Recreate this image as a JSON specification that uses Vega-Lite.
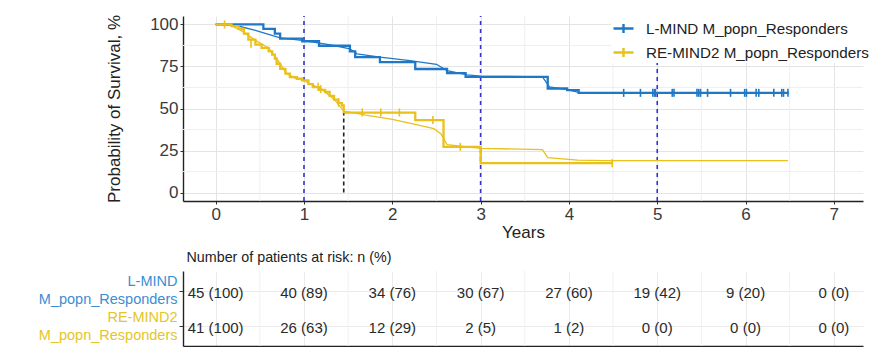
{
  "$schema": "https://vega.github.io/schema/vega-lite/v6.json",
  "padding": {"left": 38, "top": 14, "right": 0, "bottom": 0},
  "background": "white",
  "spacing": 11,
  "config": {
    "font": "Liberation Sans",
    "view": {"stroke": null},
    "axis": {
      "domainColor": "#222222", "domainWidth": 1.4,
      "tickColor": "#333333", "tickSize": 3, "tickWidth": 1,
      "gridColor": "#e4e4e4", "gridWidth": 1,
      "labelColor": "#3a3a3a", "labelFont": "Liberation Sans",
      "titleFont": "Liberation Sans", "titleFontWeight": "normal", "titleColor": "#222222"
    }
  },
  "datasets": {
    "minorX": [{"v":0.5},{"v":1.5},{"v":2.5},{"v":3.5},{"v":4.5},{"v":5.5},{"v":6.5}],
    "minorY": [{"v":12.5},{"v":37.5},{"v":62.5},{"v":87.5}],
    "vlines": [{"t":1,"lo":-5,"hi":105},{"t":3,"lo":-5,"hi":105},{"t":5,"lo":-5,"hi":105}],
    "median": [{"t":1.45,"lo":0,"hi":47}],
    "curves": [
      {"series":"L-MIND M_popn_Responders","kind":"thick","t":0,"s":100},
      {"series":"L-MIND M_popn_Responders","kind":"thick","t":0.54,"s":97.4},
      {"series":"L-MIND M_popn_Responders","kind":"thick","t":0.67,"s":94.5},
      {"series":"L-MIND M_popn_Responders","kind":"thick","t":0.73,"s":91.5},
      {"series":"L-MIND M_popn_Responders","kind":"thick","t":0.98,"s":90.0},
      {"series":"L-MIND M_popn_Responders","kind":"thick","t":1.17,"s":87.3},
      {"series":"L-MIND M_popn_Responders","kind":"thick","t":1.52,"s":84.0},
      {"series":"L-MIND M_popn_Responders","kind":"thick","t":1.58,"s":80.5},
      {"series":"L-MIND M_popn_Responders","kind":"thick","t":1.86,"s":77.6},
      {"series":"L-MIND M_popn_Responders","kind":"thick","t":2.26,"s":73.5},
      {"series":"L-MIND M_popn_Responders","kind":"thick","t":2.62,"s":71.0},
      {"series":"L-MIND M_popn_Responders","kind":"thick","t":2.83,"s":68.8},
      {"series":"L-MIND M_popn_Responders","kind":"thick","t":3.76,"s":61.9},
      {"series":"L-MIND M_popn_Responders","kind":"thick","t":3.98,"s":60.9},
      {"series":"L-MIND M_popn_Responders","kind":"thick","t":4.11,"s":59.3},
      {"series":"L-MIND M_popn_Responders","kind":"thick","t":6.49,"s":59.3},
      {"series":"L-MIND M_popn_Responders","kind":"thin","t":0,"s":100},
      {"series":"L-MIND M_popn_Responders","kind":"thin","t":0.2,"s":99.8},
      {"series":"L-MIND M_popn_Responders","kind":"thin","t":0.45,"s":96.5},
      {"series":"L-MIND M_popn_Responders","kind":"thin","t":0.73,"s":92.0},
      {"series":"L-MIND M_popn_Responders","kind":"thin","t":1.0,"s":90.3},
      {"series":"L-MIND M_popn_Responders","kind":"thin","t":1.3,"s":87.8},
      {"series":"L-MIND M_popn_Responders","kind":"thin","t":1.52,"s":85.5},
      {"series":"L-MIND M_popn_Responders","kind":"thin","t":1.6,"s":82.5},
      {"series":"L-MIND M_popn_Responders","kind":"thin","t":1.86,"s":80.5},
      {"series":"L-MIND M_popn_Responders","kind":"thin","t":2.2,"s":78.5},
      {"series":"L-MIND M_popn_Responders","kind":"thin","t":2.5,"s":76.3},
      {"series":"L-MIND M_popn_Responders","kind":"thin","t":2.62,"s":72.5},
      {"series":"L-MIND M_popn_Responders","kind":"thin","t":2.85,"s":70.0},
      {"series":"L-MIND M_popn_Responders","kind":"thin","t":3.0,"s":69.3},
      {"series":"L-MIND M_popn_Responders","kind":"thin","t":3.7,"s":68.8},
      {"series":"L-MIND M_popn_Responders","kind":"thin","t":3.78,"s":62.8},
      {"series":"L-MIND M_popn_Responders","kind":"thin","t":3.98,"s":61.2},
      {"series":"L-MIND M_popn_Responders","kind":"thin","t":4.11,"s":59.6},
      {"series":"L-MIND M_popn_Responders","kind":"thin","t":6.49,"s":59.3},
      {"series":"RE-MIND2 M_popn_Responders","kind":"thick","t":0,"s":100},
      {"series":"RE-MIND2 M_popn_Responders","kind":"thick","t":0.18,"s":99},
      {"series":"RE-MIND2 M_popn_Responders","kind":"thick","t":0.26,"s":97.4},
      {"series":"RE-MIND2 M_popn_Responders","kind":"thick","t":0.32,"s":94.5},
      {"series":"RE-MIND2 M_popn_Responders","kind":"thick","t":0.37,"s":91.0},
      {"series":"RE-MIND2 M_popn_Responders","kind":"thick","t":0.45,"s":88.0},
      {"series":"RE-MIND2 M_popn_Responders","kind":"thick","t":0.52,"s":86.0},
      {"series":"RE-MIND2 M_popn_Responders","kind":"thick","t":0.6,"s":84.0},
      {"series":"RE-MIND2 M_popn_Responders","kind":"thick","t":0.64,"s":82.0},
      {"series":"RE-MIND2 M_popn_Responders","kind":"thick","t":0.67,"s":79.6},
      {"series":"RE-MIND2 M_popn_Responders","kind":"thick","t":0.69,"s":76.6},
      {"series":"RE-MIND2 M_popn_Responders","kind":"thick","t":0.73,"s":73.6},
      {"series":"RE-MIND2 M_popn_Responders","kind":"thick","t":0.79,"s":70.7},
      {"series":"RE-MIND2 M_popn_Responders","kind":"thick","t":0.84,"s":68.7},
      {"series":"RE-MIND2 M_popn_Responders","kind":"thick","t":0.92,"s":67.7},
      {"series":"RE-MIND2 M_popn_Responders","kind":"thick","t":0.98,"s":66.7},
      {"series":"RE-MIND2 M_popn_Responders","kind":"thick","t":1.05,"s":64.5},
      {"series":"RE-MIND2 M_popn_Responders","kind":"thick","t":1.1,"s":62.7},
      {"series":"RE-MIND2 M_popn_Responders","kind":"thick","t":1.17,"s":61.1},
      {"series":"RE-MIND2 M_popn_Responders","kind":"thick","t":1.24,"s":59.8},
      {"series":"RE-MIND2 M_popn_Responders","kind":"thick","t":1.29,"s":57.5},
      {"series":"RE-MIND2 M_popn_Responders","kind":"thick","t":1.34,"s":55.3},
      {"series":"RE-MIND2 M_popn_Responders","kind":"thick","t":1.39,"s":53.2},
      {"series":"RE-MIND2 M_popn_Responders","kind":"thick","t":1.43,"s":51.8},
      {"series":"RE-MIND2 M_popn_Responders","kind":"thick","t":1.45,"s":47.6},
      {"series":"RE-MIND2 M_popn_Responders","kind":"thick","t":2.26,"s":43.1},
      {"series":"RE-MIND2 M_popn_Responders","kind":"thick","t":2.58,"s":27.2},
      {"series":"RE-MIND2 M_popn_Responders","kind":"thick","t":3.0,"s":17.5},
      {"series":"RE-MIND2 M_popn_Responders","kind":"thick","t":4.49,"s":17.5},
      {"series":"RE-MIND2 M_popn_Responders","kind":"thin","t":0,"s":100},
      {"series":"RE-MIND2 M_popn_Responders","kind":"thin","t":0.15,"s":100},
      {"series":"RE-MIND2 M_popn_Responders","kind":"thin","t":0.3,"s":96},
      {"series":"RE-MIND2 M_popn_Responders","kind":"thin","t":0.45,"s":90.5},
      {"series":"RE-MIND2 M_popn_Responders","kind":"thin","t":0.6,"s":86},
      {"series":"RE-MIND2 M_popn_Responders","kind":"thin","t":0.7,"s":79},
      {"series":"RE-MIND2 M_popn_Responders","kind":"thin","t":0.8,"s":71},
      {"series":"RE-MIND2 M_popn_Responders","kind":"thin","t":0.9,"s":68},
      {"series":"RE-MIND2 M_popn_Responders","kind":"thin","t":1.0,"s":66.5},
      {"series":"RE-MIND2 M_popn_Responders","kind":"thin","t":1.2,"s":61.5},
      {"series":"RE-MIND2 M_popn_Responders","kind":"thin","t":1.35,"s":55},
      {"series":"RE-MIND2 M_popn_Responders","kind":"thin","t":1.45,"s":48.5},
      {"series":"RE-MIND2 M_popn_Responders","kind":"thin","t":1.7,"s":46},
      {"series":"RE-MIND2 M_popn_Responders","kind":"thin","t":2.0,"s":43.5},
      {"series":"RE-MIND2 M_popn_Responders","kind":"thin","t":2.26,"s":40.5},
      {"series":"RE-MIND2 M_popn_Responders","kind":"thin","t":2.47,"s":38},
      {"series":"RE-MIND2 M_popn_Responders","kind":"thin","t":2.55,"s":35},
      {"series":"RE-MIND2 M_popn_Responders","kind":"thin","t":2.62,"s":28.5},
      {"series":"RE-MIND2 M_popn_Responders","kind":"thin","t":3.0,"s":26.3},
      {"series":"RE-MIND2 M_popn_Responders","kind":"thin","t":3.7,"s":25.5},
      {"series":"RE-MIND2 M_popn_Responders","kind":"thin","t":3.76,"s":20.8},
      {"series":"RE-MIND2 M_popn_Responders","kind":"thin","t":4.1,"s":19.3},
      {"series":"RE-MIND2 M_popn_Responders","kind":"thin","t":4.4,"s":19},
      {"series":"RE-MIND2 M_popn_Responders","kind":"thin","t":6.48,"s":19}
    ],
    "censor": [
      {"series":"RE-MIND2 M_popn_Responders","t":0.1,"s":100},
      {"series":"RE-MIND2 M_popn_Responders","t":0.4,"s":88.5},
      {"series":"RE-MIND2 M_popn_Responders","t":1.16,"s":63},
      {"series":"RE-MIND2 M_popn_Responders","t":1.19,"s":61.5},
      {"series":"RE-MIND2 M_popn_Responders","t":1.39,"s":53.5},
      {"series":"RE-MIND2 M_popn_Responders","t":1.66,"s":47.6},
      {"series":"RE-MIND2 M_popn_Responders","t":1.87,"s":47.6},
      {"series":"RE-MIND2 M_popn_Responders","t":2.08,"s":47.6},
      {"series":"RE-MIND2 M_popn_Responders","t":2.46,"s":43.1},
      {"series":"RE-MIND2 M_popn_Responders","t":2.77,"s":27.2},
      {"series":"RE-MIND2 M_popn_Responders","t":4.49,"s":17.5},
      {"series":"L-MIND M_popn_Responders","t":4.62,"s":59.3},
      {"series":"L-MIND M_popn_Responders","t":4.81,"s":59.3},
      {"series":"L-MIND M_popn_Responders","t":4.95,"s":59.3},
      {"series":"L-MIND M_popn_Responders","t":4.97,"s":59.3},
      {"series":"L-MIND M_popn_Responders","t":4.98,"s":59.3},
      {"series":"L-MIND M_popn_Responders","t":5.17,"s":59.3},
      {"series":"L-MIND M_popn_Responders","t":5.19,"s":59.3},
      {"series":"L-MIND M_popn_Responders","t":5.45,"s":59.3},
      {"series":"L-MIND M_popn_Responders","t":5.47,"s":59.3},
      {"series":"L-MIND M_popn_Responders","t":5.49,"s":59.3},
      {"series":"L-MIND M_popn_Responders","t":5.57,"s":59.3},
      {"series":"L-MIND M_popn_Responders","t":5.83,"s":59.3},
      {"series":"L-MIND M_popn_Responders","t":5.99,"s":59.3},
      {"series":"L-MIND M_popn_Responders","t":6.01,"s":59.3},
      {"series":"L-MIND M_popn_Responders","t":6.12,"s":59.3},
      {"series":"L-MIND M_popn_Responders","t":6.15,"s":59.3},
      {"series":"L-MIND M_popn_Responders","t":6.32,"s":59.3},
      {"series":"L-MIND M_popn_Responders","t":6.41,"s":59.3},
      {"series":"L-MIND M_popn_Responders","t":6.43,"s":59.3},
      {"series":"L-MIND M_popn_Responders","t":6.48,"s":59.3}
    ],
    "risk": [
      {"t":0,"row":1,"n":"45 (100)"},{"t":1,"row":1,"n":"40 (89)"},{"t":2,"row":1,"n":"34 (76)"},{"t":3,"row":1,"n":"30 (67)"},
      {"t":4,"row":1,"n":"27 (60)"},{"t":5,"row":1,"n":"19 (42)"},{"t":6,"row":1,"n":"9 (20)"},{"t":7,"row":1,"n":"0 (0)"},
      {"t":0,"row":2,"n":"41 (100)"},{"t":1,"row":2,"n":"26 (63)"},{"t":2,"row":2,"n":"12 (29)"},{"t":3,"row":2,"n":"2 (5)"},
      {"t":4,"row":2,"n":"1 (2)"},{"t":5,"row":2,"n":"0 (0)"},{"t":6,"row":2,"n":"0 (0)"},{"t":7,"row":2,"n":"0 (0)"}
    ]
  },
  "vconcat": [
    {
      "width": 680,
      "height": 185,
      "layer": [
        {
          "data": {"name": "minorX"},
          "mark": {"type": "rule", "color": "#efefef", "strokeWidth": 1},
          "encoding": {
            "x": {"field": "v", "type": "quantitative",
              "scale": {"domain": [-0.37, 7.33], "nice": false, "zero": false},
              "axis": {"title": "Years", "values": [0,1,2,3,4,5,6,7], "format": "d", "grid": true,
                "labelFontSize": 17, "labelPadding": 2, "titleFontSize": 17, "titlePadding": 2, "tickSize": 3}}
          }
        },
        {
          "data": {"name": "minorY"},
          "mark": {"type": "rule", "color": "#efefef", "strokeWidth": 1},
          "encoding": {
            "y": {"field": "v", "type": "quantitative",
              "scale": {"domain": [-5, 105], "nice": false, "zero": false},
              "axis": {"title": "Probability of Survival, %", "values": [0,25,50,75,100], "grid": true,
                "labelFontSize": 17, "labelPadding": 2, "titleFontSize": 17, "titlePadding": 26, "tickSize": 3}}
          }
        },
        {
          "data": {"name": "vlines"},
          "mark": {"type": "rule", "color": "#3434cf", "strokeWidth": 1.6, "strokeDash": [4, 4]},
          "encoding": {
            "x": {"field": "t", "type": "quantitative", "scale": {"domain": [-0.37, 7.33], "nice": false, "zero": false}},
            "y": {"field": "lo", "type": "quantitative", "scale": {"domain": [-5, 105], "nice": false, "zero": false}},
            "y2": {"field": "hi"}
          }
        },
        {
          "data": {"name": "curves"},
          "transform": [{"filter": "datum.kind == 'thin'"}],
          "mark": {"type": "line", "strokeWidth": 1.3, "interpolate": "linear"},
          "encoding": {
            "x": {"field": "t", "type": "quantitative", "scale": {"domain": [-0.37, 7.33], "nice": false, "zero": false}},
            "y": {"field": "s", "type": "quantitative", "scale": {"domain": [-5, 105], "nice": false, "zero": false}},
            "color": {"field": "series", "type": "nominal",
              "scale": {"domain": ["L-MIND M_popn_Responders", "RE-MIND2 M_popn_Responders"], "range": ["#1f78c6", "#e9c01c"]},
              "legend": {"title": null, "orient": "none", "legendX": 428, "legendY": 0,
                "symbolType": "M-1,0H1M0,-0.45V0.45", "symbolSize": 400, "symbolStrokeWidth": 2.4,
                "labelFontSize": 15.2, "labelColor": "#222222", "labelOffset": 11, "rowPadding": 3,
                "padding": 1, "fillColor": "white", "labelLimit": 400}}
          }
        },
        {
          "data": {"name": "curves"},
          "transform": [{"filter": "datum.kind == 'thick'"}],
          "mark": {"type": "line", "strokeWidth": 2.3, "interpolate": "step-after"},
          "encoding": {
            "x": {"field": "t", "type": "quantitative", "scale": {"domain": [-0.37, 7.33], "nice": false, "zero": false}},
            "y": {"field": "s", "type": "quantitative", "scale": {"domain": [-5, 105], "nice": false, "zero": false}},
            "color": {"field": "series", "type": "nominal",
              "scale": {"domain": ["L-MIND M_popn_Responders", "RE-MIND2 M_popn_Responders"], "range": ["#1f78c6", "#e9c01c"]}}
          }
        },
        {
          "data": {"name": "censor"},
          "mark": {"type": "point", "shape": "M0,-1V1", "size": 64, "filled": false, "strokeWidth": 1.6, "opacity": 1},
          "encoding": {
            "x": {"field": "t", "type": "quantitative", "scale": {"domain": [-0.37, 7.33], "nice": false, "zero": false}},
            "y": {"field": "s", "type": "quantitative", "scale": {"domain": [-5, 105], "nice": false, "zero": false}},
            "color": {"field": "series", "type": "nominal",
              "scale": {"domain": ["L-MIND M_popn_Responders", "RE-MIND2 M_popn_Responders"], "range": ["#1f78c6", "#e9c01c"]}}
          }
        },
        {
          "data": {"name": "median"},
          "mark": {"type": "rule", "color": "#222222", "strokeWidth": 1.6, "strokeDash": [4, 3]},
          "encoding": {
            "x": {"field": "t", "type": "quantitative", "scale": {"domain": [-0.37, 7.33], "nice": false, "zero": false}},
            "y": {"field": "lo", "type": "quantitative", "scale": {"domain": [-5, 105], "nice": false, "zero": false}},
            "y2": {"field": "hi"}
          }
        }
      ]
    },
    {
      "width": 680,
      "height": 75,
      "title": {"text": "Number of patients at risk: n (%)", "anchor": "start", "frame": "group", "fontSize": 14.3, "fontWeight": "normal",
        "color": "#222222", "offset": 5, "dx": 3.5, "font": "Liberation Sans"},
      "layer": [
        {
          "data": {"name": "minorX"},
          "mark": {"type": "rule", "color": "#f1f1f1", "strokeWidth": 1},
          "encoding": {
            "x": {"field": "v", "type": "quantitative",
              "scale": {"domain": [-0.37, 7.33], "nice": false, "zero": false},
              "axis": {"title": null, "values": [0,1,2,3,4,5,6,7], "grid": true, "labels": false, "ticks": false, "domain": true, "gridColor": "#ebebeb"}}
          }
        },
        {
          "data": {"name": "risk"},
          "mark": {"type": "text", "fontSize": 15, "color": "#2a2a2a", "align": "center", "baseline": "middle", "dy": 2},
          "encoding": {
            "x": {"field": "t", "type": "quantitative", "scale": {"domain": [-0.37, 7.33], "nice": false, "zero": false}},
            "y": {"field": "row", "type": "quantitative",
              "scale": {"domain": [0.45, 2.55], "nice": false, "zero": false, "reverse": true},
              "axis": {"title": null, "values": [1, 2], "grid": true, "gridColor": "#ebebeb", "tickSize": 4, "labelPadding": 2,
                "labelExpr": "datum.value == 1 ? ['L-MIND', 'M_popn_Responders'] : ['RE-MIND2', 'M_popn_Responders']",
                "labelColor": {"condition": {"test": "datum.value == 1", "value": "#3a8ed3"}, "value": "#e4c52a"},
                "labelFontSize": 14.5, "labelLineHeight": 18, "labelOffset": -9, "labelLimit": 300}},
            "text": {"field": "n", "type": "nominal"}
          }
        }
      ]
    }
  ]
}
